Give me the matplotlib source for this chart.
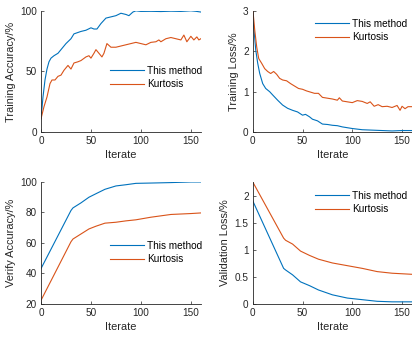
import numpy as np
import matplotlib.pyplot as plt

plt.rcParams['font.family'] = ['Liberation Sans', 'DejaVu Sans']
plt.rcParams['font.size'] = 7.2

blue = '#0072BD'
orange = '#D95319'
gray = '#262626'

# Training accuracy
ta_x_b = [0, 2, 4, 6, 8, 10, 13, 17, 20, 25, 30, 33, 40, 45, 50, 53, 56, 60, 65, 70,
          75, 80, 85, 88, 92, 95, 100, 110, 120, 130, 140, 150, 155, 160]
ta_y_b = [11, 29, 43, 52, 58, 61, 63, 65, 68, 73, 77, 81, 83, 84, 86, 85, 85, 89.5, 94, 95,
          96, 98, 97, 96, 99, 100, 99.5, 99.6, 99.4, 99.7, 99.5, 100, 99.6, 99]
ta_x_o = [0, 3, 6, 9, 11, 14, 17, 20, 23, 27, 30, 33, 37, 40, 45, 48, 50, 53, 55, 58,
          61, 63, 66, 70, 75, 80, 85, 90, 95, 100, 105, 110, 115, 118, 120, 125, 130,
          135, 140, 143, 146, 150, 153, 156, 158, 160]
ta_y_o = [11, 21, 29, 40, 43, 43, 46, 47, 51, 55, 52, 57, 58, 59, 62, 63, 61, 65, 68, 65,
          62, 65, 73, 70, 70, 71, 72, 73, 74, 73, 72, 74, 74.5, 76, 74.5, 77, 78,
          77, 76, 80, 74.5, 79, 76, 78.5, 76, 77]

# Training loss
tl_x_b = [0, 1, 3, 5, 7, 10, 13, 17, 20, 25, 30, 35, 40, 45, 50, 53, 57, 60, 65, 70,
          75, 80, 85, 90, 95, 100, 110, 120, 130, 140, 150, 160]
tl_y_b = [2.77, 2.6, 2.03, 1.7, 1.45, 1.2, 1.08, 1.0, 0.92, 0.79, 0.67, 0.59, 0.54, 0.5,
          0.42, 0.44, 0.38, 0.32, 0.28, 0.2, 0.19, 0.17, 0.16, 0.13, 0.11, 0.09, 0.06,
          0.05, 0.04, 0.03, 0.04, 0.04]
tl_x_o = [0, 2, 4, 6, 9, 12, 15, 18, 21, 24, 27, 30, 34, 38, 42, 46, 50, 54, 58, 62, 66,
          70, 75, 80, 85, 87, 90, 95, 100, 105, 110, 115, 118, 122, 126, 130, 135, 140,
          145, 148, 150, 153, 156, 160]
tl_y_o = [3.05, 2.52, 2.1, 1.82, 1.7, 1.57, 1.5, 1.45, 1.5, 1.43, 1.33, 1.29, 1.27, 1.2,
          1.14, 1.08, 1.06, 1.02, 0.99, 0.96, 0.96, 0.86, 0.84, 0.82, 0.79, 0.85, 0.77,
          0.75, 0.73, 0.78, 0.76, 0.71, 0.75, 0.64, 0.68, 0.63, 0.64, 0.61, 0.66, 0.54,
          0.64, 0.58, 0.63, 0.63]

# Verify accuracy
va_x = [0, 30, 32, 40, 48, 55, 64, 75, 85, 95, 110, 130, 150, 160]
va_y_b = [43.2, 81.3, 83, 86.3, 90, 92.3, 95.2, 97.4, 98.2, 99.1, 99.3, 99.6, 100, 100]
va_y_o = [22.4, 60.8, 62.6, 65.9, 69.2, 71, 73, 73.6, 74.5, 75.2, 76.9, 78.7, 79.3, 79.7]

# Validation loss
vl_x = [0, 31, 33, 40, 48, 57, 66, 80, 95, 110, 125, 140, 160]
vl_y_b = [1.91, 0.66, 0.63, 0.54, 0.41, 0.34, 0.26, 0.17, 0.11, 0.08, 0.05, 0.04, 0.04]
vl_y_o = [2.26, 1.22, 1.18, 1.11, 0.98, 0.9, 0.83, 0.76, 0.71, 0.66, 0.6, 0.57, 0.55]

fig = plt.figure(figsize=(4.12, 3.38), dpi=100)

axes = [
    fig.add_axes([0.0995, 0.609, 0.388, 0.359]),
    fig.add_axes([0.6135, 0.609, 0.3865, 0.359]),
    fig.add_axes([0.0995, 0.1006, 0.388, 0.361]),
    fig.add_axes([0.6135, 0.1006, 0.3865, 0.361]),
]

data = [
    (ta_x_b, ta_y_b, ta_x_o, ta_y_o, 'Training Accuracy/%', (0, 100), [0, 50, 100]),
    (tl_x_b, tl_y_b, tl_x_o, tl_y_o, 'Training Loss/%', (0, 3), [0, 1, 2, 3]),
    (va_x, va_y_b, va_x, va_y_o, 'Verify Accuracy/%', (20, 100), [20, 40, 60, 80, 100]),
    (vl_x, vl_y_b, vl_x, vl_y_o, 'Validation Loss/%', (0, 2.26), [0, 0.5, 1, 1.5, 2]),
]
# legend top-left corners in figure fraction
legend_pos = [(0.267, 0.805), (0.7646, 0.945), (0.267, 0.287), (0.7646, 0.436)]

for i, ax in enumerate(axes):
    xb, yb, xo, yo, lab, yl, yt = data[i]
    ax.plot(xb, yb, color=blue, lw=0.8, label='This method')
    ax.plot(xo, yo, color=orange, lw=0.8, label='Kurtosis')
    ax.set_xlim(0, 160)
    ax.set_ylim(*yl)
    ax.set_yticks(yt)
    ax.set_yticklabels([('%g' % v) for v in yt])
    ax.set_xticks([0, 50, 100, 150])
    ax.set_xlabel('Iterate', color=gray, fontsize=7.9, labelpad=3)
    ax.set_ylabel(lab, color=gray, fontsize=7.9, labelpad=3)
    for s in ['top', 'right']:
        ax.spines[s].set_visible(False)
    for s in ['left', 'bottom']:
        ax.spines[s].set_color(gray)
        ax.spines[s].set_linewidth(0.6)
    ax.tick_params(direction='in', length=2.5, width=0.5, colors=gray, labelsize=7.2, pad=3)
    ax.legend(loc='upper left', bbox_to_anchor=legend_pos[i], bbox_transform=fig.transFigure,
              frameon=False, fontsize=7.2, handlelength=3.4, handletextpad=0.3,
              labelspacing=0.35, borderpad=0, borderaxespad=0)

plt.savefig('out.png', dpi=100)
